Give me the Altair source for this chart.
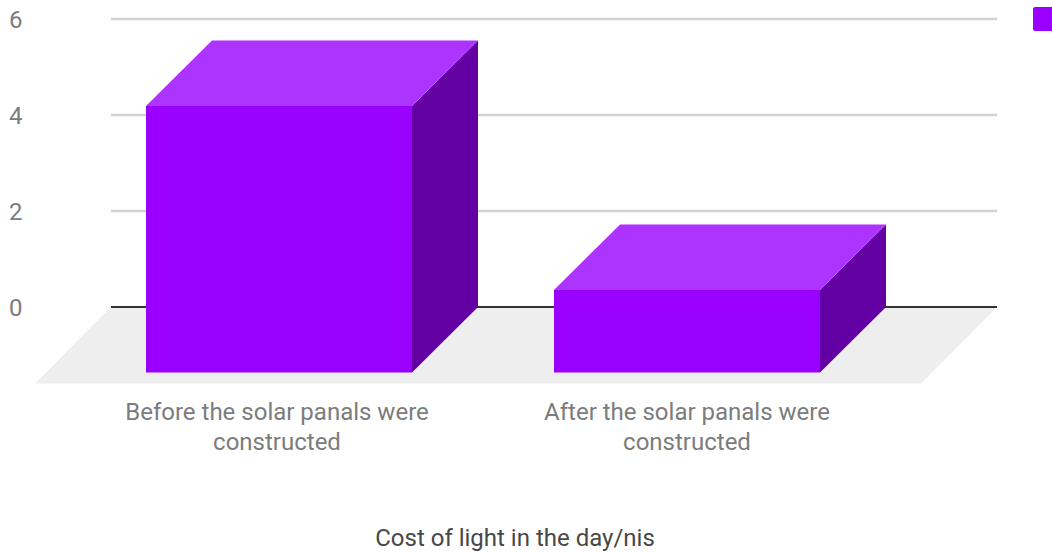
import altair as alt
import pandas as pd

# Series
categories = ["Before the solar panals were\nconstructed", "After the solar panals were\nconstructed"]
values = [5.55, 1.72]
y_ticks = [0, 2, 4, 6]
axis_title = "Cost of light in the day/nis"

# Scene geometry, in x-scale units and value units
PX_PER_UNIT = 48
BAR_LEFT = [146, 554]
LABEL_CENTER = [277, 687]
BAR_WIDTH = 266
DEPTH_X = 66
DEPTH_Y = 65.5 / PX_PER_UNIT
GRID_X = (111, 997)
FLOOR_DX = 76
FLOOR_DY = 76.5 / PX_PER_UNIT
X_DOMAIN = [36, 1052]
Y_DOMAIN = [6 + 19 / PX_PER_UNIT, -245 / PX_PER_UNIT]

x_scale = alt.Scale(domain=X_DOMAIN, nice=False, zero=False)
y_scale = alt.Scale(domain=[Y_DOMAIN[1], Y_DOMAIN[0]], nice=False, zero=False)
X = alt.X("x:Q", scale=x_scale, axis=None)
# Every layer carries the same axis definition, so the layers merge into one axis
Y = alt.Y("y:Q", scale=y_scale, title=None,
          axis=alt.Axis(values=y_ticks, format="d", domain=False, ticks=False, grid=False,
                        labelFont="Roboto", labelFontSize=24, labelColor="#7c7c7c",
                        labelPadding=14, labelAlign="right", labelOffset=1))


def face(rows, color):
    frame = pd.DataFrame(rows, columns=["x", "y", "y2"])
    return alt.Chart(frame).mark_area(color=color, opacity=1, line=False, interpolate="linear").encode(
        x=X, y=Y, y2="y2:Q"
    )


# Floor of the 3D scene
floor = face(
    [
        (GRID_X[0] - FLOOR_DX, -FLOOR_DY, -FLOOR_DY),
        (GRID_X[0], 0, -FLOOR_DY),
        (GRID_X[1] - FLOOR_DX, 0, -FLOOR_DY),
        (GRID_X[1], 0, 0),
    ],
    "#eeeeee",
)

# Gridlines along the back wall
grid = alt.Chart(pd.DataFrame({"y": [v for v in y_ticks if v != 0], "x": GRID_X[0], "x2": GRID_X[1]})).mark_rule(
    color="#d2d2d2", strokeWidth=2.4
).encode(x=X, x2="x2:Q", y=Y)
zero = alt.Chart(pd.DataFrame({"y": [0], "x": GRID_X[0], "x2": GRID_X[1]})).mark_rule(
    color="#333333", strokeWidth=2
).encode(x=X, x2="x2:Q", y=Y)

# Each bar is a front rectangle plus top and side parallelograms
layers = [floor, grid, zero]
for left, value in zip(BAR_LEFT, values):
    right = left + BAR_WIDTH
    base = -DEPTH_Y
    front_top = value - DEPTH_Y
    top = face(
        [
            (left, front_top, front_top),
            (left + DEPTH_X, value, front_top),
            (right, value, front_top),
            (right + DEPTH_X, value, value),
        ],
        "#ad33ff",
    )
    side = face(
        [
            (right, front_top, base),
            (right + DEPTH_X, value, 0),
        ],
        "#6200a4",
    )
    front = face(
        [
            (left, front_top, base),
            (right, front_top, base),
        ],
        "#9900ff",
    )
    layers += [side, top, front]

# Category labels under the floor
labels = alt.Chart(pd.DataFrame({
    "x": LABEL_CENTER,
    "y": [-105 / PX_PER_UNIT] * 2,
    "label": categories,
})).mark_text(
    font="Roboto", fontSize=24, color="#7c7c7c", lineBreak="\n", lineHeight=30,
    align="center", baseline="middle", dy=0.5,
).encode(x=X, y=Y, text="label:N")

# Horizontal axis title
title = alt.Chart(pd.DataFrame({"x": [515], "y": [-232 / PX_PER_UNIT], "label": [axis_title]})).mark_text(
    font="Roboto", fontSize=24, color="#484848", align="center", baseline="middle"
).encode(x=X, y=Y, text="label:N")

# Series key, partly beyond the right edge
key = alt.Chart(pd.DataFrame({
    "x": [1033], "x2": [1058],
    "y": [6 + 12 / PX_PER_UNIT], "y2": [6 - 12 / PX_PER_UNIT],
})).mark_rect(color="#9900ff", cornerRadius=2).encode(x=X, x2="x2:Q", y=Y, y2="y2:Q")

chart = alt.layer(*layers, labels, title, key).properties(
    width=1016,
    height=552,
    padding={"left": 36, "top": 0, "right": 0, "bottom": 0},
    autosize=alt.AutoSizeParams(type="none"),
    background="#ffffff",
).configure_view(stroke=None)

chart.save("out.html", embed_options={"renderer": "svg", "actions": False})
